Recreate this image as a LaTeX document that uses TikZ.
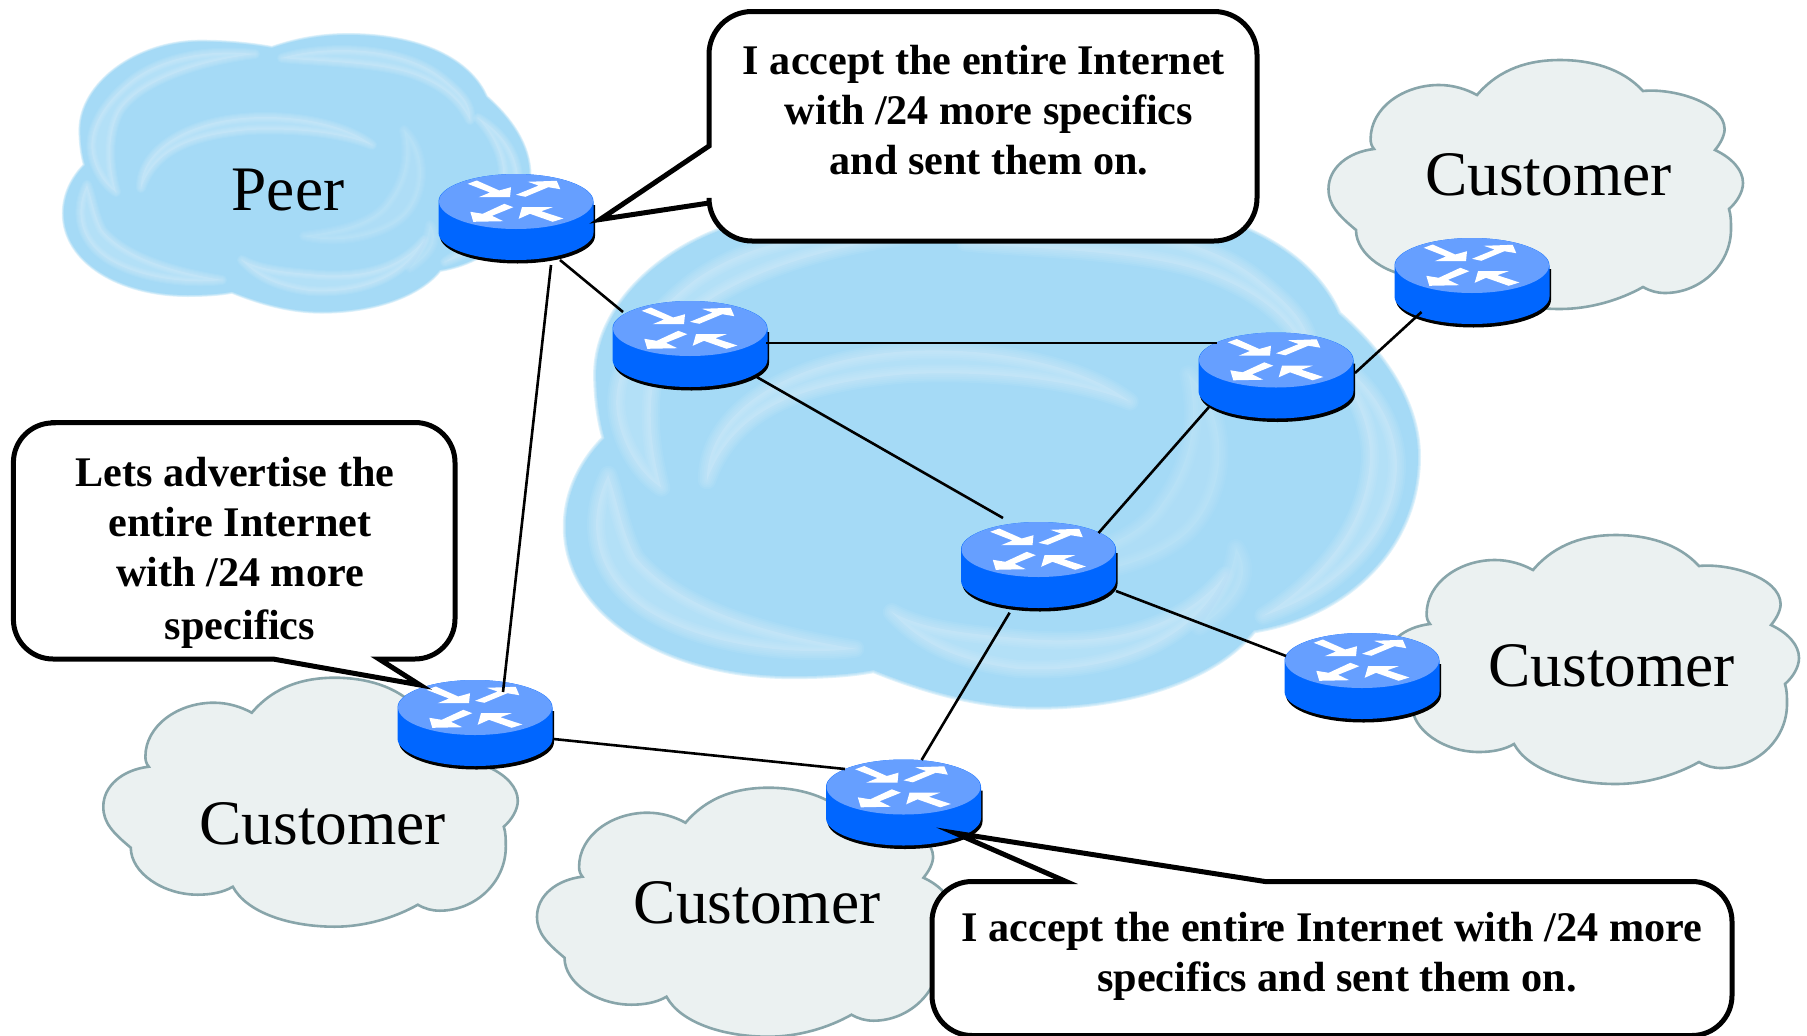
\documentclass[tikz,border=0pt]{standalone}
\usepackage{fontspec}
\setmainfont{Liberation Serif}
\definecolor{skybase}{RGB}{165,218,246}
\definecolor{skylight}{RGB}{214,238,250}
\definecolor{skymid}{RGB}{196,231,249}
\definecolor{custfill}{RGB}{235,241,241}
\definecolor{custedge}{RGB}{136,165,170}
\definecolor{routertop}{RGB}{102,159,255}
\definecolor{routerbody}{RGB}{0,102,255}
\newcommand{\softpath}[3]{%
  \foreach \w in {1,0.66,0.33}{\path[draw=#1,draw opacity=0.35,line join=round,line width=\w*#2 pt] #3;}
  \path[fill=#1] #3;}
\newcommand{\softlight}[3]{%
  \foreach \w in {1,0.8,0.6,0.4,0.2}{\path[draw=#1,draw opacity=0.12,line join=round,line width=\w*#2 pt] #3;}
  \path[fill=#1,fill opacity=0.3] #3;}
\newcommand{\bluecloud}[2]{%
  \softpath{skybase}{#1}{(272,48) .. controls (250,44) and (225,41.7) .. (201,41.7)
    .. controls (135,41.7) and (80.4,85) .. (80.4,130) .. controls (80.4,142) and (82,155) .. (85,165)
    .. controls (72,178) and (63.8,195) .. (63.8,213.3) .. controls (63.8,262) and (120,295) .. (187.5,295)
    .. controls (205,295) and (220,294) .. (232,291.7) .. controls (260,303) and (290,311.7) .. (321.4,311.7)
    .. controls (375,311.7) and (420,295) .. (439.7,270) .. controls (490,262) and (529.5,225) .. (529.5,175)
    .. controls (529.5,145) and (510,118) .. (486,97) .. controls (470,60) and (420,35) .. (348,35)
    .. controls (320,35) and (295,40) .. (272,48) -- cycle}%
  \softlight{skylight}{#2}{(255,54) .. controls (215,50) and (170,54) .. (135,78) .. controls (103,102) and (88,130) .. (92,153)
    .. controls (95,170) and (105,185) .. (116,192) .. controls (110,170) and (106,140) .. (118,114)
    .. controls (133,85) and (190,62) .. (255,54) -- cycle}%
  \softlight{skylight}{#2}{(282,58) .. controls (320,46) and (400,44) .. (442,78) .. controls (462,94) and (472,105) .. (470,120)
    .. controls (462,105) and (450,88) .. (415,75) .. controls (380,62) and (320,62) .. (282,58) -- cycle}%
  \softlight{skylight}{#2}{(478,118) .. controls (502,132) and (518,155) .. (518,180) .. controls (518,215) and (488,248) .. (445,262)
    .. controls (475,243) and (500,215) .. (503,180) .. controls (505,160) and (495,137) .. (478,118) -- cycle}%
  \softlight{skylight}{#2}{(141,188) .. controls (140,150) and (190,117) .. (265,117) .. controls (310,117) and (350,128) .. (372,145)
    .. controls (340,132) and (290,128) .. (250,130) .. controls (190,135) and (155,150) .. (141,188) -- cycle}%
  \softlight{skymid}{#2}{(404,130) .. controls (425,150) and (428,190) .. (405,215) .. controls (385,235) and (340,245) .. (304,236)
    .. controls (335,232) and (375,225) .. (390,200) .. controls (405,180) and (410,155) .. (404,130) -- cycle}%
  \softlight{skylight}{#2}{(87,185) .. controls (76,207) and (76,238) .. (108,259) .. controls (140,279) and (190,284) .. (222,280)
    .. controls (180,273) and (127,260) .. (102,230) .. controls (94,215) and (92,198) .. (87,185) -- cycle}%
  \softlight{skylight}{#2}{(242,260) .. controls (255,274) and (272,286) .. (310,291) .. controls (360,294) and (405,278) .. (424,240)
    .. controls (403,265) and (370,278) .. (320,275) .. controls (285,272) and (260,270) .. (242,260) -- cycle}%
  \softlight{skymid}{#2}{(430,225) .. controls (440,240) and (430,255) .. (410,268) .. controls (420,255) and (428,240) .. (430,225) -- cycle}%
}
\tikzset{
  routerbase/.style={minimum width=156pt,minimum height=90pt,inner sep=0pt,outer sep=0pt},
  link/.style={draw=black,line width=2.6pt},
  balloon/.style={draw=black,fill=white,line width=5pt,line join=miter,miter limit=25},
  saytext/.style={font=\fontsize{42.2pt}{50pt}\selectfont\bfseries,align=center,inner sep=0pt,outer sep=0pt},
  bigtext/.style={font=\fontsize{63.4pt}{70pt}\selectfont,anchor=base,inner sep=0pt,outer sep=0pt},
  routerpic/.pic={
    \path[fill=black,shift={(1.5,3.5)}] (-77.5,0) -- (-77.5,31) arc[start angle=180,end angle=360,x radius=77.5pt,y radius=27.5pt] -- (77.5,0) -- cycle;
    \path[fill=routerbody] (-77.5,0) -- (-77.5,31) arc[start angle=180,end angle=360,x radius=77.5pt,y radius=27.5pt] -- (77.5,0) arc[start angle=0,end angle=180,x radius=77.5pt,y radius=27.5pt] -- cycle;
    \path[fill=routertop] (0,0) ellipse[x radius=77pt,y radius=27.5pt];
    \path[fill=white] (-48.3,-17.7) -- (-39.3,-21) -- (-16.7,-11) -- (-5,-14.3) -- (-6,-4.3) -- (-37.3,-4.3) -- (-26,-9) -- cycle;
    \path[fill=white] (0,-6.7) -- (22.7,-16) -- (11.7,-19.7) -- (40.7,-20.7) -- (44.3,-12.3) -- (32.3,-14.3) -- (9.3,-4.7) -- cycle;
    \path[fill=white] (-2.7,5.7) -- (-11.7,2.3) -- (-33.3,12.3) -- (-45.7,10.3) -- (-42.7,20.3) -- (-12.7,19.7) -- (-24,14.3) -- cycle;
    \path[fill=white] (47.3,17) -- (36.7,20.3) -- (14,12.3) -- (2.7,17.3) -- (6,5.7) -- (36.7,5.7) -- (25.3,9.7) -- cycle;
  },
  custcloud/.pic={
    \path[fill=custfill,draw=custedge,line width=2.6pt,line join=miter]
    (-83,35) .. controls (-60,8) and (-30,0) .. (0,0) .. controls (30,0) and (62,8) .. (83,31)
    .. controls (112,28) and (164,42) .. (164.6,69) .. controls (164.6,76) and (160,84) .. (155,90)
    .. controls (172,98) and (183,110) .. (183,123) .. controls (183,132) and (177,142) .. (169,149)
    .. controls (171,155) and (171,162) .. (171,169) .. controls (171,205) and (140,233) .. (105,233)
    .. controls (97,233) and (90,231) .. (83,227) .. controls (60,240) and (30,249) .. (0,249)
    .. controls (-45,249) and (-88,235) .. (-102,209) .. controls (-112,215) and (-125,217) .. (-137,217)
    .. controls (-172,217) and (-204,195) .. (-204,170) .. controls (-222,155) and (-231.5,145) .. (-231.5,129)
    .. controls (-231.5,108) and (-212,92) .. (-186,89) .. controls (-188.5,86) and (-189.4,83) .. (-189.4,79)
    .. controls (-189.4,48) and (-157,25) .. (-121,25) .. controls (-107,25) and (-94,29) .. (-83,35) -- cycle;
  }
}
\newcommand{\router}[3]{%
  \pic at (#2,#3) {routerpic};
  \node[routerbase,yshift=-17pt] (#1) at (#2,#3) {};}
\begin{document}
\begin{tikzpicture}[x=1pt,y=-1pt]
\useasboundingbox (0,0) rectangle (1807,1036);
\path[fill=white] (0,0) rectangle (1807,1036);
% blue clouds
\begin{scope}\bluecloud{4}{10}\end{scope}
\begin{scope}[shift={(449,136.3)},scale=1.83]\bluecloud{6}{18}\end{scope}
% customer clouds
\pic at (1560,60) {custcloud};
\pic at (1616,535) {custcloud};
\pic at (334.8,677.7) {custcloud};
\pic at (768.5,787.7) {custcloud};
% routers
\router{r1}{516}{201.5}
\router{r2}{690}{328.5}
\router{r3}{1276}{360}
\router{r4}{1472}{265.5}
\router{r5}{1038.5}{549.5}
\router{r6}{1362}{660.5}
\router{r7}{475}{707.5}
\router{r8}{903.5}{787}
% links
\draw[link] ([shift={(44,41.5)}]r1.center) -- ([shift={(-67,-33.5)}]r2.center);
\draw[link] ([shift={(35,46.5)}]r1.center) -- ([shift={(28,-32.5)}]r7.center);
\draw[link] ([shift={(76,-2.5)}]r2.center) -- ([shift={(-59,-34)}]r3.center);
\draw[link] ([shift={(65,30.5)}]r2.center) -- ([shift={(-35.5,-48.5)}]r5.center);
\draw[link] ([shift={(-67,30)}]r3.center) -- ([shift={(60,-33.5)}]r5.center);
\draw[link] ([shift={(79,-4)}]r3.center) -- ([shift={(-50.5,29.5)}]r4.center);
\draw[link] ([shift={(77.5,24.5)}]r5.center) -- ([shift={(-76,-21.5)}]r6.center);
\draw[link] ([shift={(-28.9,46.2)}]r5.center) -- ([shift={(18.1,-44)}]r8.center);
\draw[link] ([shift={(78.6,14.5)}]r7.center) -- ([shift={(-58.5,-35)}]r8.center);
% balloons
\draw[balloon] (752,11.5) -- (1214,11.5) arc[start angle=90,end angle=0,radius=43pt] -- (1257,198)
  arc[start angle=0,end angle=-90,radius=43pt] -- (752,241) arc[start angle=-90,end angle=-180,radius=43pt]
  -- (709,203) -- (600,219.5) -- (709,146) -- (709,54.5) arc[start angle=180,end angle=90,radius=43pt] -- cycle;
\draw[balloon] (53,422.5) -- (415,422.5) arc[start angle=90,end angle=0,radius=40pt] -- (455,619)
  arc[start angle=0,end angle=-90,radius=40pt] -- (379,659) -- (420,685) -- (273,659) -- (53,659)
  arc[start angle=-90,end angle=-180,radius=39.6pt] -- (13.4,462.5) arc[start angle=180,end angle=90,radius=39.6pt] -- cycle;
\draw[balloon] (972,881.5) -- (1066,881.5) -- (955,833) -- (1265,881.5) -- (1692,881.5)
  arc[start angle=90,end angle=0,radius=40pt] -- (1732,995.5) arc[start angle=0,end angle=-90,radius=40pt]
  -- (972,1035.5) arc[start angle=-90,end angle=-180,radius=40pt] -- (932,921.5) arc[start angle=180,end angle=90,radius=40pt] -- cycle;
% texts
\node[bigtext] (peer) at (288,210.5) {Peer};
\node[bigtext] (c4) at (1548.4,195.3) {Customer};
\node[bigtext] (c6) at (1611.7,686) {Customer};
\node[bigtext] (c7) at (322.7,844.3) {Customer};
\node[bigtext] (c8) at (757,923.2) {Customer};
\node[saytext] (say1) at (989,109.8) {I accept the entire Internet\kern10pt\\with /24 more specifics\\and sent them on.};
\node[saytext] (say2) at (240,552.5) {Lets advertise the\kern10pt\\entire Internet\\with /24 more\\[3pt]specifics};
\node[saytext] (say3) at (1337,956) {I accept the entire Internet with /24 more\kern10pt\\specifics and sent them on.};
\end{tikzpicture}
\end{document}
